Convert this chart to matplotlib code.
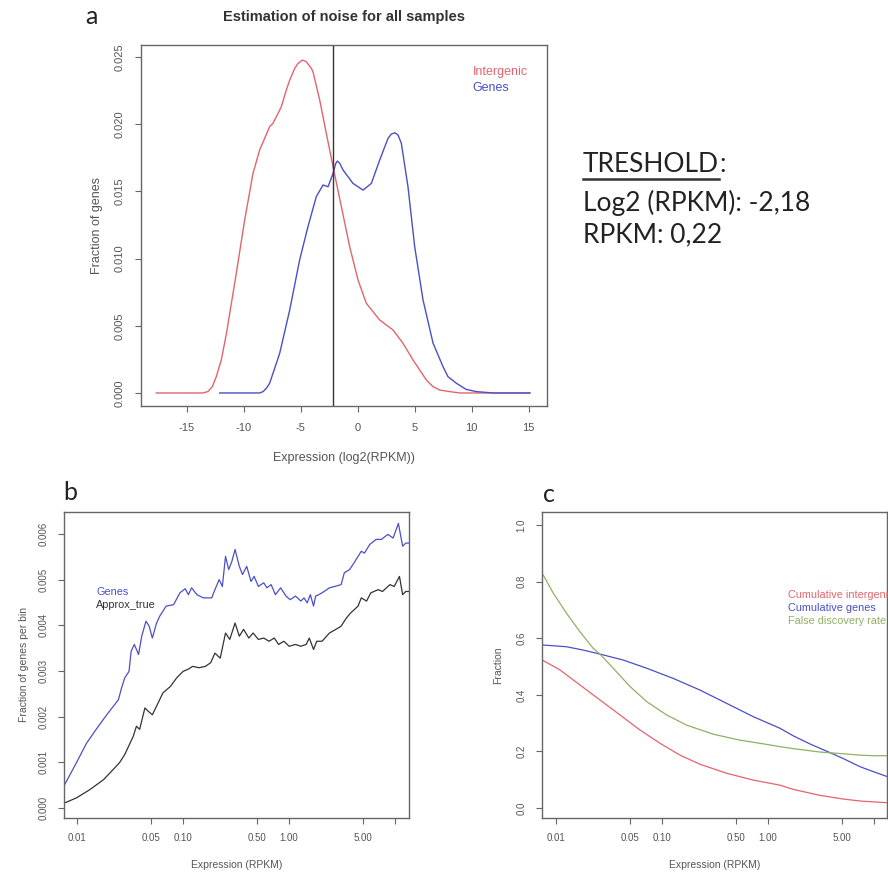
import numpy as np
import matplotlib
matplotlib.use("Agg")
import matplotlib.pyplot as plt
from matplotlib.lines import Line2D

# ---- panel a: density of log2(RPKM) ----
a_inter_x = [-17.66, -13.6, -13.13, -12.75, -12.4, -11.96, -11.5, -10.64, -9.91, -9.18, -8.6,
             -7.72, -7.43, -6.99, -6.7, -6.26, -5.96, -5.53, -5.24, -4.85, -4.50, -4.06, -3.92,
             -3.33, -2.75, -2.16, -1.43, -0.70, 0.03, 0.76, 1.93, 3.10, 3.97, 4.85, 6.02, 6.6,
             7.19, 8.07, 8.95, 12.0, 15.1]
a_inter_y = [0.0, 0.0, 0.0001, 0.00047, 0.00121, 0.00246, 0.00446, 0.00893, 0.01287, 0.01634,
             0.01808, 0.01982, 0.02007, 0.0208, 0.0213, 0.02254, 0.02329, 0.02415, 0.02452,
             0.02478, 0.02465, 0.02416, 0.02391, 0.0218, 0.01932, 0.01684, 0.01386, 0.01088,
             0.00841, 0.00667, 0.00543, 0.00469, 0.0037, 0.00246, 0.00097, 0.00047, 0.00022,
             0.0001, 0.0, 0.0, 0.0]
a_genes_x = [-12.1, -8.6, -8.3, -8.01, -7.72, -6.84, -5.96, -5.09, -4.36, -3.63, -3.04, -2.6,
             -2.16, -1.92, -1.78, -1.57, -1.28, -0.41, 0.47, 1.2, 1.93, 2.66, 2.95, 3.25, 3.54,
             3.83, 4.41, 5.0, 5.73, 6.61, 7.48, 7.92, 8.66, 9.5, 10.4, 11.9, 15.1]
a_genes_y = [0.0, 0.0, 0.0001, 0.00035, 0.00072, 0.00295, 0.00618, 0.0099, 0.01238, 0.01461,
             0.01548, 0.01535, 0.01634, 0.01709, 0.01726, 0.01709, 0.01659, 0.0156, 0.0151,
             0.0156, 0.01734, 0.01895, 0.01927, 0.01937, 0.0192, 0.01858, 0.01535, 0.01088,
             0.00692, 0.0037, 0.00196, 0.00121, 0.00072, 0.00027, 0.0001, 0.0, 0.0]
a_threshold = -2.18
a_xticks = [-15, -10, -5, 0, 5, 10, 15]
a_yticks = [0.000, 0.005, 0.010, 0.015, 0.020, 0.025]

# ---- panel b: fraction of genes per bin (x given as log10 RPKM) ----
b_genes_lx = [-2.117, -2.006, -1.91, -1.82, -1.72, -1.61, -1.58, -1.55, -1.51, -1.49, -1.46,
              -1.42, -1.39, -1.35, -1.32, -1.29, -1.25, -1.22, -1.16, -1.09, -1.03, -0.98,
              -0.95, -0.92, -0.87, -0.81, -0.73, -0.70, -0.66, -0.63, -0.60, -0.57, -0.54,
              -0.51, -0.47, -0.44, -0.40, -0.36, -0.33, -0.29, -0.24, -0.21, -0.17, -0.13,
              -0.08, -0.03, 0.01, 0.06, 0.11, 0.14, 0.17, 0.20, 0.23, 0.25, 0.28, 0.33, 0.38,
              0.43, 0.49, 0.52, 0.57, 0.61, 0.68, 0.71, 0.76, 0.82, 0.87, 0.93, 0.98, 1.03,
              1.07, 1.10, 1.14]
b_genes_y = [0.00051, 0.00099, 0.00142, 0.00172, 0.00204, 0.00237, 0.00263, 0.00285, 0.00299,
             0.00343, 0.00358, 0.00336, 0.00376, 0.00409, 0.00398, 0.00372, 0.00405, 0.0042,
             0.00442, 0.00445, 0.00471, 0.0048, 0.00467, 0.00482, 0.00467, 0.0046, 0.0046,
             0.00478, 0.005, 0.00485, 0.00551, 0.00522, 0.0054, 0.00566, 0.00529, 0.00511,
             0.00529, 0.00496, 0.00507, 0.00485, 0.00493, 0.00482, 0.00489, 0.00467, 0.00482,
             0.00464, 0.00456, 0.00464, 0.00453, 0.0046, 0.00449, 0.00467, 0.00442, 0.00464,
             0.00467, 0.00474, 0.00482, 0.00485, 0.00489, 0.00515, 0.00522, 0.00536, 0.00562,
             0.00558, 0.00577, 0.00588, 0.00588, 0.00599, 0.00591, 0.00623, 0.00573, 0.0058,
             0.0058]
b_true_lx = [-2.117, -2.006, -1.88, -1.75, -1.66, -1.60, -1.55, -1.50, -1.47, -1.44, -1.41,
             -1.36, -1.33, -1.29, -1.25, -1.19, -1.12, -1.06, -1.00, -0.95, -0.91, -0.85,
             -0.79, -0.74, -0.70, -0.65, -0.60, -0.56, -0.51, -0.47, -0.43, -0.38, -0.34,
             -0.29, -0.24, -0.19, -0.14, -0.10, -0.05, 0.00, 0.06, 0.11, 0.16, 0.19, 0.23,
             0.26, 0.31, 0.38, 0.44, 0.49, 0.54, 0.58, 0.65, 0.68, 0.73, 0.77, 0.84, 0.88,
             0.95, 0.99, 1.04, 1.07, 1.10, 1.14]
b_true_y = [0.00011, 0.00022, 0.0004, 0.00062, 0.00084, 0.00099, 0.00117, 0.00142, 0.00157,
            0.00179, 0.00172, 0.00219, 0.00212, 0.00204, 0.00223, 0.00252, 0.00266, 0.00285,
            0.00299, 0.00304, 0.0031, 0.00307, 0.0031, 0.00318, 0.00339, 0.00328, 0.00383,
            0.00369, 0.00405, 0.00376, 0.00391, 0.00372, 0.00383, 0.00369, 0.00372, 0.00365,
            0.00372, 0.00358, 0.00365, 0.00354, 0.00358, 0.00354, 0.00358, 0.00372, 0.00347,
            0.00365, 0.00365, 0.00383, 0.00391, 0.00398, 0.00416, 0.00427, 0.00442, 0.0046,
            0.00453, 0.00471, 0.00478, 0.00474, 0.00489, 0.00485, 0.00507, 0.00467, 0.00474,
            0.00474]
b_yticks = [0.000, 0.001, 0.002, 0.003, 0.004, 0.005, 0.006]

# ---- panel c: cumulative fractions (x given as log10 RPKM) ----
c_fdr_lx = [-2.12, -2.025, -1.90, -1.774, -1.648, -1.585, -1.46, -1.30, -1.144, -0.956,
            -0.767, -0.516, -0.264, -0.012, 0.113, 0.24, 0.49, 0.71, 0.87, 1.0, 1.12]
c_fdr_y = [0.823, 0.759, 0.688, 0.623, 0.564, 0.544, 0.494, 0.429, 0.376, 0.329, 0.293,
           0.261, 0.24, 0.225, 0.217, 0.21, 0.198, 0.192, 0.187, 0.185, 0.185]
c_genes_lx = [-2.12, -1.90, -1.74, -1.585, -1.365, -1.144, -0.893, -0.642, -0.39, -0.139,
              0.113, 0.24, 0.40, 0.56, 0.71, 0.87, 1.0, 1.12]
c_genes_y = [0.576, 0.570, 0.558, 0.544, 0.523, 0.494, 0.458, 0.417, 0.37, 0.323, 0.282,
             0.255, 0.226, 0.2, 0.175, 0.146, 0.128, 0.112]
c_inter_lx = [-2.12, -1.962, -1.774, -1.585, -1.396, -1.208, -1.019, -0.83, -0.642, -0.39,
              -0.139, 0.113, 0.24, 0.49, 0.71, 0.87, 1.12]
c_inter_y = [0.521, 0.488, 0.435, 0.382, 0.329, 0.276, 0.229, 0.187, 0.155, 0.123, 0.099,
             0.081, 0.066, 0.045, 0.032, 0.025, 0.019]
c_yticks = [0.0, 0.2, 0.4, 0.6, 0.8, 1.0]

rpkm_ticks = [0.01, 0.05, 0.10, 0.50, 1.00, 5.00, 10.0]
rpkm_labels = ["0.01", "0.05", "0.10", "0.50", "1.00", "5.00", ""]

RED = "#e4646c"
BLUE = "#4b4fc8"
GREEN = "#8fb163"
BLACK = "#333333"
AXC = "#666666"
TXT = "#555555"

plt.rcParams["font.family"] = ["Liberation Sans", "DejaVu Sans"]

fig = plt.figure(figsize=(8.88, 8.77), dpi=100)
W, H = 888.0, 877.0


def add_ax(left, top, right, bottom):
    return fig.add_axes([left / W, 1 - bottom / H, (right - left) / W, (bottom - top) / H])


def r_style(ax, ylab, xlab, tsize, lsize, ypad, xpad, tpad):
    for s in ax.spines.values():
        s.set_color(AXC)
        s.set_linewidth(1.0)
    ax.tick_params(colors=AXC, labelcolor=TXT, labelsize=tsize, length=4, width=0.8, pad=tpad)
    for lab in ax.get_yticklabels():
        lab.set_rotation(90)
        lab.set_va("center")
    ax.set_ylabel(ylab, fontsize=lsize, color=TXT, labelpad=ypad)
    ax.set_xlabel(xlab, fontsize=lsize, color=TXT, labelpad=xpad)


# panel a
ax = add_ax(141, 45, 547, 406)
ax.plot(a_inter_x, a_inter_y, color=RED, lw=1.0)
ax.plot(a_genes_x, a_genes_y, color=BLUE, lw=1.0)
ax.axvline(a_threshold, color=BLACK, lw=1.0)
ax.set_xlim(-19.0, 16.6)
ax.set_ylim(-0.00097, 0.0259)
ax.set_xticks(a_xticks)
ax.set_xticklabels([str(v) for v in a_xticks])
ax.set_yticks(a_yticks)
ax.set_yticklabels(["%.3f" % v for v in a_yticks])
r_style(ax, "Fraction of genes", "Expression (log2(RPKM))", 8, 9, 8, 14, 8)
ax.set_title("Estimation of noise for all samples", fontsize=10.5, fontweight="bold",
             color="#333333", pad=17)
ax.text(0.817, 0.925, "Intergenic", transform=ax.transAxes, color=RED, fontsize=9, va="center")
ax.text(0.817, 0.880, "Genes", transform=ax.transAxes, color=BLUE, fontsize=9, va="center")

# panel b
ax = add_ax(64, 512, 409, 818)
ax.plot(10 ** np.array(b_genes_lx), b_genes_y, color=BLUE, lw=0.9)
ax.plot(10 ** np.array(b_true_lx), b_true_y, color=BLACK, lw=0.9)
ax.set_xscale("log")
ax.set_xlim(10 ** -2.123, 10 ** 1.13)
ax.set_ylim(-0.00022, 0.00648)
ax.set_xticks(rpkm_ticks)
ax.set_xticklabels(rpkm_labels)
ax.minorticks_off()
ax.set_yticks(b_yticks)
ax.set_yticklabels(["%.3f" % v for v in b_yticks])
r_style(ax, "Fraction of genes per bin", "Expression (RPKM)", 7, 7.5, 7, 12, 7)
ax.text(0.093, 0.737, "Genes", transform=ax.transAxes, color=BLUE, fontsize=7.8, va="center")
ax.text(0.093, 0.695, "Approx_true", transform=ax.transAxes, color=BLACK, fontsize=7.8, va="center")

# panel c
ax = add_ax(542, 512, 887, 818)
ax.plot(10 ** np.array(c_inter_lx), c_inter_y, color=RED, lw=0.9)
ax.plot(10 ** np.array(c_genes_lx), c_genes_y, color=BLUE, lw=0.9)
ax.plot(10 ** np.array(c_fdr_lx), c_fdr_y, color=GREEN, lw=0.9)
ax.set_xscale("log")
ax.set_xlim(10 ** -2.132, 10 ** 1.123)
ax.set_ylim(-0.035, 1.046)
ax.set_xticks(rpkm_ticks)
ax.set_xticklabels(rpkm_labels)
ax.minorticks_off()
ax.set_yticks(c_yticks)
ax.set_yticklabels(["%.1f" % v for v in c_yticks])
r_style(ax, "Fraction", "Expression (RPKM)", 7, 7.5, 10, 12, 7)
ax.text(0.713, 0.73, "Cumulative intergenic", transform=ax.transAxes, color=RED,
        fontsize=7.8, va="center")
ax.text(0.713, 0.687, "Cumulative genes", transform=ax.transAxes, color=BLUE, fontsize=7.8, va="center")
ax.text(0.713, 0.644, "False discovery rate", transform=ax.transAxes, color=GREEN,
        fontsize=7.8, va="center")

# panel letters and threshold note
fig.text(91 / W, 1 - 17 / H, "a", fontsize=18, family="Lato", va="center", ha="center", color="#222222")
fig.text(70 / W, 1 - 492 / H, "b", fontsize=18, family="Lato", va="center", ha="center", color="#222222")
fig.text(549 / W, 1 - 495 / H, "c", fontsize=18, family="Lato", va="center", ha="center", color="#222222")

t1 = fig.text(583 / W, 1 - 165 / H, "TRESHOLD", fontsize=19, family="Lato", va="center", color="#222222")
fig.text(583 / W, 1 - 203 / H, "Log2 (RPKM): -2,18", fontsize=19, family="Lato", va="center", color="#222222")
fig.text(583 / W, 1 - 235 / H, "RPKM: 0,22", fontsize=19, family="Lato", va="center", color="#222222")
fig.canvas.draw()
bb = t1.get_window_extent().transformed(fig.transFigure.inverted())
fig.text(bb.x1, 1 - 165 / H, ":", fontsize=19, family="Lato", va="center", color="#222222")
fig.add_artist(Line2D([bb.x0, bb.x1], [bb.y0 - 1 / H, bb.y0 - 1 / H], color="#333333", lw=1.8,
                      transform=fig.transFigure))

fig.savefig("out.png", dpi=100, facecolor="white")
